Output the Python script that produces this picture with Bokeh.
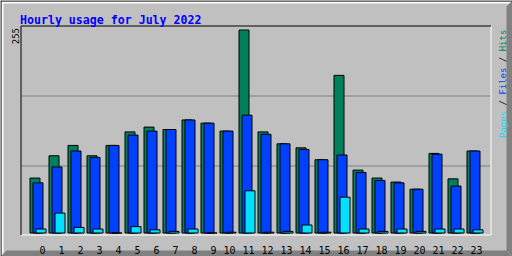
from bokeh.plotting import figure
from bokeh.models import Range1d, ColumnDataSource
from bokeh.transform import dodge
from bokeh.core.properties import value
from bokeh.embed import file_html
from bokeh.resources import INLINE

# ---------------- data ----------------
hours = list(range(24))
hour_labels = [str(h) for h in hours]
hits = [69, 97, 110, 97, 110, 127, 133, 130, 142, 138, 128, 255,
        127, 112, 107, 92, 198, 79, 69, 64, 55, 100, 68, 103]
files = [63, 83, 103, 95, 110, 123, 128, 130, 142, 138, 128, 148,
         124, 112, 105, 92, 98, 76, 66, 63, 55, 99, 59, 103]
pages = [5, 25, 7, 5, 0, 8, 4, 2, 5, 0, 1, 53,
         1, 2, 10, 1, 45, 5, 2, 5, 2, 5, 5, 4]
title_text = "Hourly usage for July 2022"
max_label = "255"
legend_parts = ["Pages", "/", "Files", "/", "Hits"]
legend_char_index = [0, 6, 8, 14, 16]

# ---------------- styles ----------------
C_BG = "#c0c0c0"
C_SHADOW = "#808080"
C_HITS = "#00805c"
C_FILES = "#0040ff"
C_PAGES = "#00e0ff"
C_TITLE = "#0000ff"
legend_colors = [C_PAGES, "#000000", C_FILES, "#000000", C_HITS]
MONO = "DejaVu Sans Mono"

W, H = 512, 256
SLOT = 19.0      # px per hour
X0 = 37.5        # px of files-bar centre for hour 0
BASE = 232.5     # px (from top) of the zero line
TOP_PX = 29.5    # px (from top) of the maximum value
MAXV = 255.0
scale = (BASE - TOP_PX) / MAXV

p = figure(width=W, height=H, output_backend="svg", toolbar_location=None,
           x_range=Range1d(-X0 / SLOT, (W - X0) / SLOT),
           y_range=Range1d(-(H - BASE) / scale, BASE / scale),
           x_axis_type=None, y_axis_type=None, min_border=0,
           outline_line_color=None,
           background_fill_color=C_BG, border_fill_color=C_BG)
p.extra_x_ranges = {"px": Range1d(0, W)}
p.extra_y_ranges = {"px": Range1d(H, 0)}
PX = dict(x_range_name="px", y_range_name="px")

# ---- outer 3D frame ----
p.quad(left=[1, 1], right=[W - 1, 3], top=[1, 1], bottom=[3, H - 1],
       fill_color="white", line_color=None, **PX)
p.patches(xs=[[506, 512, 512, 506], [0, 6, 506, 512]],
          ys=[[6, 0, 256, 250], [256, 250, 250, 256]],
          fill_color=C_SHADOW, line_color=None, **PX)
p.quad(left=[0, 0], right=[W, 1], top=[0, 0], bottom=[1, H],
       fill_color="black", line_color=None, **PX)

# ---- grid lines ----
p.segment(x0=[21, 21], x1=[490, 490], y0=[95.5, 165.5], y1=[95.5, 165.5],
          line_color=C_SHADOW, line_width=1, **PX)

# ---- plot area inset border ----
p.segment(x0=[490.5, 20.5], x1=[490.5, 490.5], y0=[25.5, 234.5], y1=[234.5, 234.5],
          line_color="white", line_width=1, **PX)
p.segment(x0=[20.5, 20.5], x1=[20.5, 490.5], y0=[25.5, 25.5], y1=[234.5, 25.5],
          line_color="black", line_width=1, **PX)

# ---- bars ----
src = ColumnDataSource(dict(hour=hours, label=hour_labels,
                            hits=hits, files=files, pages=pages))
bw = 10.0 / SLOT
off = 3.0 / SLOT
p.vbar(x=dodge("hour", -off, range=p.x_range), top="hits", bottom=0, width=bw,
       source=src, fill_color=C_HITS, line_color="black", line_width=1)
p.vbar(x="hour", top="files", bottom=0, width=bw,
       source=src, fill_color=C_FILES, line_color="black", line_width=1)
p.vbar(x=dodge("hour", off, range=p.x_range), top="pages", bottom=0, width=bw,
       source=src, fill_color=C_PAGES, line_color="black", line_width=1)

# ---- hour labels ----
p.text(x=dodge("hour", 7.5 / SLOT, range=p.x_range), y=249.5, text="label",
       source=src, y_range_name="px",
       text_font=value(MONO), text_font_size="10px", text_color="#000000",
       text_align="right", text_baseline="alphabetic")

# ---- title ----
p.text(x=[19.5], y=[19.5], text=[title_text], **PX,
       text_font=value(MONO), text_font_size="11.6px", text_font_style="bold",
       text_color=C_TITLE, text_align="left", text_baseline="alphabetic")

# ---- max label (rotated) ----
p.text(x=[14.8], y=[27.5], text=[max_label], angle=1.5708, **PX,
       text_font=value(MONO), text_font_size="9px", text_color="#000000",
       text_align="right", text_baseline="alphabetic")

# ---- legend (rotated, bottom to top) ----
adv = 0.602 * 9.0
for part, idx, col in zip(legend_parts, legend_char_index, legend_colors):
    p.text(x=[502.5], y=[137.5 - idx * adv], text=[part], angle=1.5708, **PX,
           text_font=value(MONO), text_font_size="9px", text_color=col,
           text_align="left", text_baseline="alphabetic")

open("out.html", "w").write(file_html(p, INLINE))
